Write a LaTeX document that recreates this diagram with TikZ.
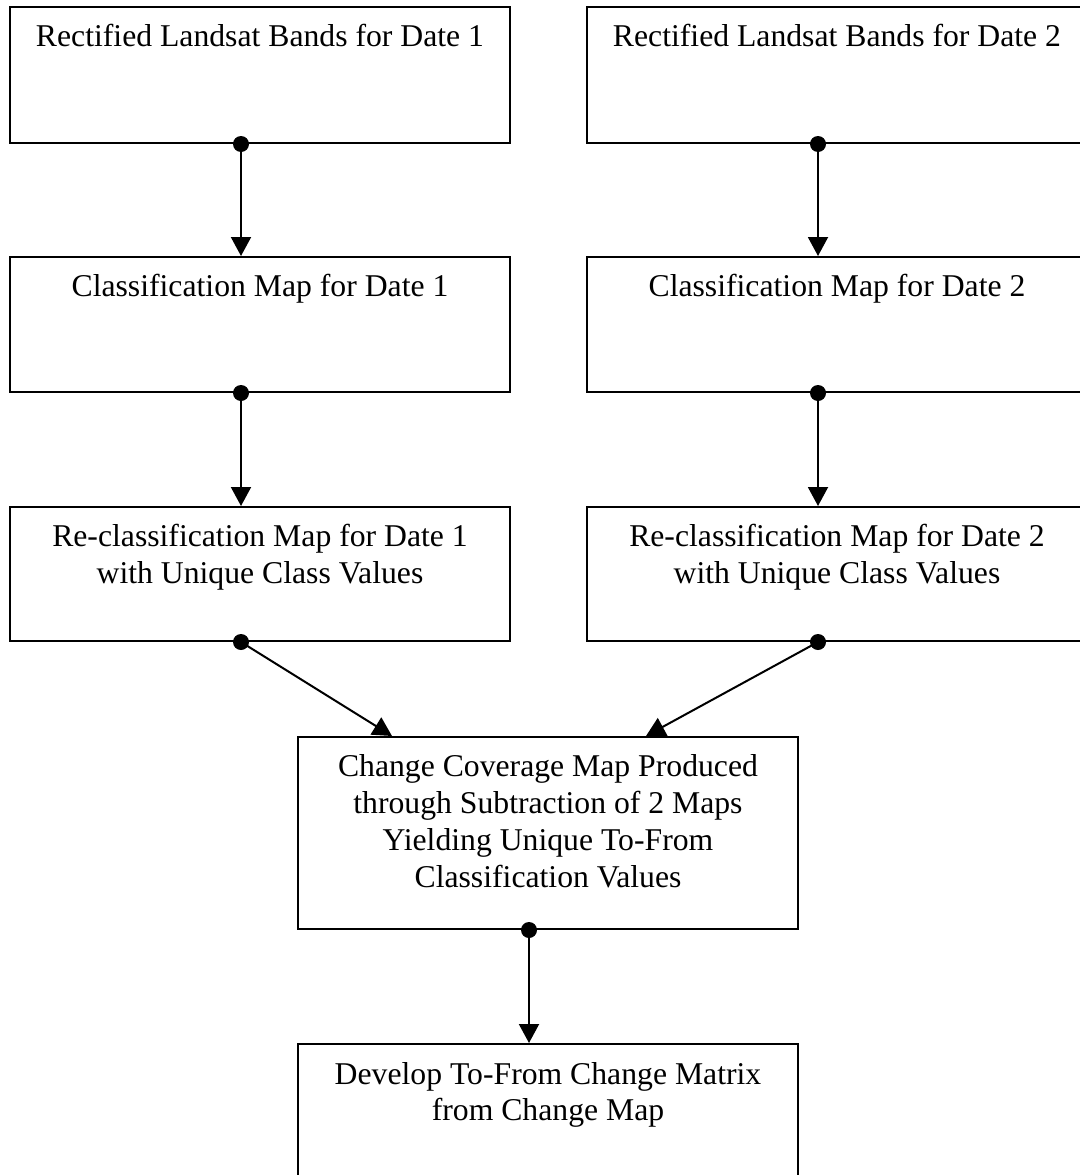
\documentclass[tikz,border=0pt]{standalone}
\usepackage{fontspec}
\setmainfont{Liberation Serif}
\usetikzlibrary{calc,arrows.meta}
\newcommand{\steptext}[2]{\parbox[t][#1][t]{500pt}{\centering
  \fontsize{31.7pt}{36.7pt}\selectfont\vspace*{14.3pt}\strut#2}}

\begin{document}
\begin{tikzpicture}[x=1pt,y=1pt,
    stepbox/.style={draw,line width=2pt,inner sep=0pt,anchor=north west},
    flow/.style={line width=2pt,-{Triangle[width=20pt,length=19pt]}}]
  \useasboundingbox (0,0) rectangle (1079,-1175);
  \node[stepbox] (land1) at (9,-6) {\steptext{136pt}{Rectified Landsat Bands for Date 1}};
  \node[stepbox] (land2) at (586,-6) {\steptext{136pt}{Rectified Landsat Bands for Date 2}};
  \node[stepbox] (class1) at (9,-256) {\steptext{135pt}{Classification Map for Date 1}};
  \node[stepbox] (class2) at (586,-256) {\steptext{135pt}{Classification Map for Date 2}};
  \node[stepbox] (recl1) at (9,-506) {\steptext{134pt}{Re-classification Map for Date 1\\
    with Unique Class Values}};
  \node[stepbox] (recl2) at (586,-506) {\steptext{134pt}{Re-classification Map for Date 2\\
    with Unique Class Values}};
  \node[stepbox] (change) at (297,-736) {\steptext{192pt}{Change Coverage Map Produced\\
    through Subtraction of 2 Maps\\ Yielding Unique To-From\\ Classification Values}};
  \node[stepbox] (matrix) at (297,-1043) {\steptext{136pt}{Develop To-From Change Matrix\\
    from Change Map}};
  \foreach \b in {land1,land2,class1,class2,recl1,recl2,change}
    \coordinate (\b-dot) at ($(\b.south)+(-19,0)$);
  \draw[flow] (land1-dot) -- (land1-dot |- class1.north);
  \draw[flow] (land2-dot) -- (land2-dot |- class2.north);
  \draw[flow] (class1-dot) -- (class1-dot |- recl1.north);
  \draw[flow] (class2-dot) -- (class2-dot |- recl2.north);
  \draw[flow] (recl1-dot) -- ($(change.north west)+(95,0)$);
  \draw[flow] (recl2-dot) -- ($(change.north west)+(349,0)$);
  \draw[flow] (change-dot) -- (change-dot |- matrix.north);
  \foreach \b in {land1,land2,class1,class2,recl1,recl2,change}
    \fill (\b-dot) circle (8pt);
\end{tikzpicture}
\end{document}
